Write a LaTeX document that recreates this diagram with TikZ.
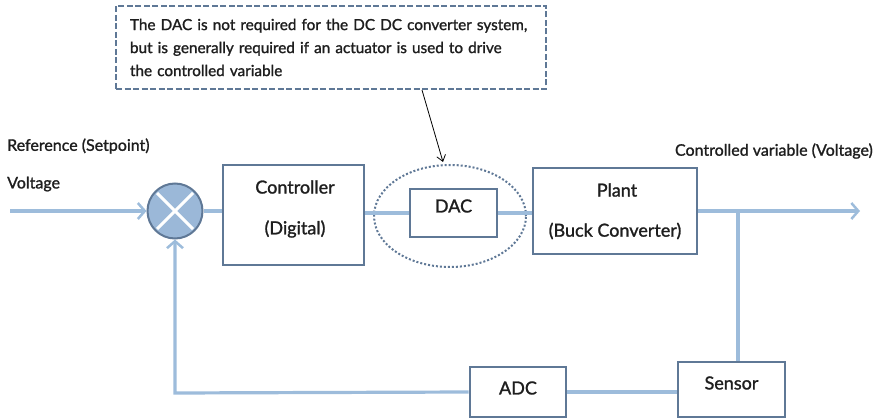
\documentclass[tikz,border=0pt]{standalone}
\usepackage{fontspec}
\setmainfont{Lato}[RawFeature={embolden=1.3}]
\usetikzlibrary{arrows.meta,shapes.geometric,calc}
\definecolor{boxc}{HTML}{5F7896}
\definecolor{linec}{HTML}{9DBCDB}
\definecolor{sumfill}{HTML}{9BB8D8}
\definecolor{txt}{HTML}{1E1E1E}
\tikzset{
  blk/.style={draw=boxc, line width=2.6pt, fill=white, inner sep=0pt},
  sig/.style={draw=linec, line width=3.2pt},
  sigarr/.style={sig, -{Straight Barb[length=7pt,width=16pt,line width=2.5pt]}},
  lbl/.style={text=txt, inner sep=0pt, font=\fontsize{16}{19}\selectfont},
  blbl/.style={text=txt, inner sep=0pt, font=\fontsize{18}{21}\selectfont},
}
\begin{document}
\begin{tikzpicture}[x=1pt,y=-1pt]
\useasboundingbox (0,0) rectangle (877,419);
% callout
\node[draw=boxc, dashed, dash pattern=on 6pt off 2.5pt, line width=2.4pt, minimum width=430pt, minimum height=83pt,
  text width=402pt, align=left, inner sep=0pt, text=txt, font=\fontsize{15.3}{23}\selectfont] (note) at (331,47.5)
  {The DAC is not required for the DC DC converter system,\\ but is generally required if an actuator is used to drive\\ the controlled variable};
% blocks
\node[blk, minimum width=141pt, minimum height=100pt] (ctrl) at (293.5,215) {};
\node[blbl] (ctrlA) at (295,187) {Controller};
\node[blbl] (ctrlB) at (295,229) {(Digital)};
\node[draw=boxc, dotted, line width=2pt, ellipse, minimum width=152pt, minimum height=102pt, inner sep=0pt] (ell) at (450,216) {};
\node[blk, minimum width=87pt, minimum height=48pt] (dac) at (453.5,213) {};
\node[blbl] (dacT) at (453.5,206) {DAC};
\node[blk, minimum width=164pt, minimum height=86pt] (plant) at (615,211) {};
\node[blbl] (plantA) at (617,190) {Plant};
\node[blbl] (plantB) at (615,231) {(Buck Converter)};
\node[blk, minimum width=107pt, minimum height=55pt] (sensor) at (731.5,389.5) {};
\node[blbl] (sensT) at (731.5,383) {Sensor};
\node[blk, minimum width=96pt, minimum height=50pt] (adc) at (518,392) {};
\node[blbl] (adcT) at (518,388) {ADC};
% summing junction
\node[circle, draw=boxc, line width=2pt, fill=sumfill, minimum size=55pt, inner sep=0pt] (sum) at (175,211) {};
\draw[white, line width=3pt] ($(sum)+(-18,-18)$) -- ($(sum)+(18,18)$);
\draw[white, line width=3pt] ($(sum)+(-18,18)$) -- ($(sum)+(18,-18)$);
% labels
\node[lbl, anchor=west] (reflbl) at (7,146) {Reference (Setpoint)};
\node[lbl, anchor=west] (vlbl) at (7,184) {Voltage};
\node[lbl, anchor=east] (outlbl) at (873,151) {Controlled variable (Voltage)};
% coordinates
\coordinate (in) at (10,211);
\coordinate (out) at (860,211);
\coordinate (br) at (738,211);
\coordinate (fbc) at (175,393);
% signals
\draw[sigarr] (in) -- (sum.west);
\draw[sig] (sum.east) -- (sum.east -| ctrl.west);
\draw[sig] (ctrl.east |- dac) -- (dac.west);
\draw[sig] (dac.east) -- (dac.east -| plant.west);
\draw[sigarr] (plant.east |- out) -- (out);
\draw[sig] (br) -- (br |- sensor.north);
\draw[sig] (sensor.west |- adc) -- (adc.east);
\draw[sigarr] (adc.west) -- (fbc) -- (sum.south);
% callout arrow
\coordinate (calloutTail) at (422,90);
\coordinate (calloutTip) at (443,162);
\draw[black, line width=0.8pt, -{Straight Barb[length=6pt,width=9pt]}] (calloutTail) -- (calloutTip);
\end{tikzpicture}
\end{document}
